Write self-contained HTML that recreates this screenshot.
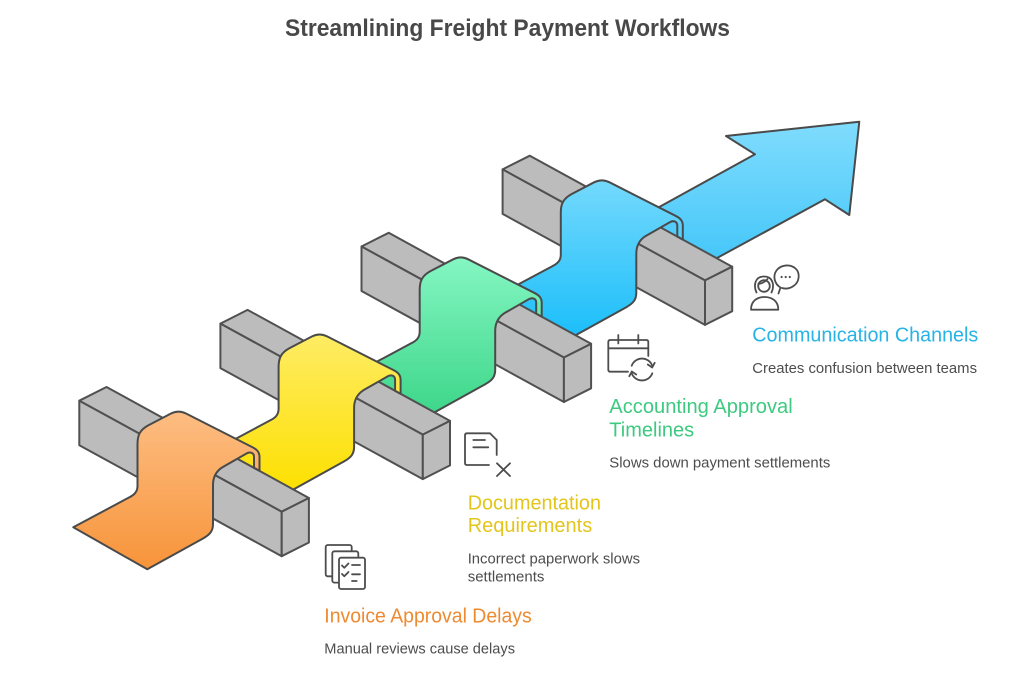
<!DOCTYPE html>
<html>
<head>
<meta charset="utf-8">
<style>
html,body{margin:0;padding:0;background:#fff;}
svg{display:block;}
text{font-family:"Liberation Sans",Arial,sans-serif;}
</style>
</head>
<body>
<svg width="1024" height="686" viewBox="0 0 1024 686" xmlns="http://www.w3.org/2000/svg">
<defs>
<linearGradient id="gO" x1="0" y1="0" x2="0" y2="1"><stop offset="0" stop-color="#FDBD82"/><stop offset="1" stop-color="#F7943A"/></linearGradient>
<linearGradient id="gY" x1="0" y1="0" x2="0" y2="1"><stop offset="0" stop-color="#FEEC64"/><stop offset="1" stop-color="#FDE000"/></linearGradient>
<linearGradient id="gG" x1="0" y1="0" x2="0" y2="1"><stop offset="0" stop-color="#84F6C2"/><stop offset="1" stop-color="#3DD689"/></linearGradient>
<linearGradient id="gB" x1="0" y1="0" x2="0" y2="1"><stop offset="0" stop-color="#74D9FC"/><stop offset="1" stop-color="#1BBEFA"/></linearGradient>
<linearGradient id="gA" x1="0" y1="0" x2="0" y2="1"><stop offset="0" stop-color="#80DCFD"/><stop offset="1" stop-color="#45C7F9"/></linearGradient>
</defs>

<!-- Title -->
<text x="507.5" y="36" text-anchor="middle" font-size="24" font-weight="bold" fill="#484848" textLength="445" lengthAdjust="spacingAndGlyphs">Streamlining Freight Payment Workflows</text>

<!-- Arrow -->
<path d="M637.7,218.9 L755,154.3 L726,136 L859.3,121.7 L849.3,215 L825,199.3 L711.7,260.9 Z" fill="url(#gA)" stroke="#4a4a4a" stroke-width="2" stroke-linejoin="round"/>

<!-- Units: back to front -->
<g transform="translate(423.3,-231.3)">
  <g fill="#bcbcbc" stroke="#505050" stroke-width="2" stroke-linejoin="round">
    <polygon points="79.3,400.7 106.5,387 308.9,498 281.7,511.7"/>
    <polygon points="79.3,400.7 281.7,511.7 281.7,556.2 79.3,445.2"/>
    <polygon points="281.7,511.7 308.9,498 308.9,542.5 281.7,556.2"/>
  </g>
  <path d="M73.3,527.3 L147.3,569.3 L203,538.5 C210,534.5 213,531 213,524 L213,485 C213,477 216,471.5 222,467.5 L246.5,453.5 C250,451.5 254,452.5 254,457 L254,467.8 L259.5,470.8 L259.5,457 C259.5,452 257,449.5 252,447 L186,413.5 C181,411 176,411 171,413.5 L148,425.5 C140,430 137.5,435 137.5,444 L137.5,486 C137.5,492 134,495 129,497.5 Z" fill="url(#gB)" stroke="#4a4a4a" stroke-width="2" stroke-linejoin="round"/>
</g>

<g transform="translate(282.2,-154.2)">
  <g fill="#bcbcbc" stroke="#505050" stroke-width="2" stroke-linejoin="round">
    <polygon points="79.3,400.7 106.5,387 308.9,498 281.7,511.7"/>
    <polygon points="79.3,400.7 281.7,511.7 281.7,556.2 79.3,445.2"/>
    <polygon points="281.7,511.7 308.9,498 308.9,542.5 281.7,556.2"/>
  </g>
  <path d="M73.3,527.3 L147.3,569.3 L203,538.5 C210,534.5 213,531 213,524 L213,485 C213,477 216,471.5 222,467.5 L246.5,453.5 C250,451.5 254,452.5 254,457 L254,467.8 L259.5,470.8 L259.5,457 C259.5,452 257,449.5 252,447 L186,413.5 C181,411 176,411 171,413.5 L148,425.5 C140,430 137.5,435 137.5,444 L137.5,486 C137.5,492 134,495 129,497.5 Z" fill="url(#gG)" stroke="#4a4a4a" stroke-width="2" stroke-linejoin="round"/>
</g>

<g transform="translate(141.1,-77.1)">
  <g fill="#bcbcbc" stroke="#505050" stroke-width="2" stroke-linejoin="round">
    <polygon points="79.3,400.7 106.5,387 308.9,498 281.7,511.7"/>
    <polygon points="79.3,400.7 281.7,511.7 281.7,556.2 79.3,445.2"/>
    <polygon points="281.7,511.7 308.9,498 308.9,542.5 281.7,556.2"/>
  </g>
  <path d="M73.3,527.3 L147.3,569.3 L203,538.5 C210,534.5 213,531 213,524 L213,485 C213,477 216,471.5 222,467.5 L246.5,453.5 C250,451.5 254,452.5 254,457 L254,467.8 L259.5,470.8 L259.5,457 C259.5,452 257,449.5 252,447 L186,413.5 C181,411 176,411 171,413.5 L148,425.5 C140,430 137.5,435 137.5,444 L137.5,486 C137.5,492 134,495 129,497.5 Z" fill="url(#gY)" stroke="#4a4a4a" stroke-width="2" stroke-linejoin="round"/>
</g>

<g>
  <g fill="#bcbcbc" stroke="#505050" stroke-width="2" stroke-linejoin="round">
    <polygon points="79.3,400.7 106.5,387 308.9,498 281.7,511.7"/>
    <polygon points="79.3,400.7 281.7,511.7 281.7,556.2 79.3,445.2"/>
    <polygon points="281.7,511.7 308.9,498 308.9,542.5 281.7,556.2"/>
  </g>
  <path d="M73.3,527.3 L147.3,569.3 L203,538.5 C210,534.5 213,531 213,524 L213,485 C213,477 216,471.5 222,467.5 L246.5,453.5 C250,451.5 254,452.5 254,457 L254,467.8 L259.5,470.8 L259.5,457 C259.5,452 257,449.5 252,447 L186,413.5 C181,411 176,411 171,413.5 L148,425.5 C140,430 137.5,435 137.5,444 L137.5,486 C137.5,492 134,495 129,497.5 Z" fill="url(#gO)" stroke="#4a4a4a" stroke-width="2" stroke-linejoin="round"/>
</g>

<!-- Icons -->
<g fill="none" stroke="#4d4d4d" stroke-width="1.8" stroke-linecap="round" stroke-linejoin="round">
  <!-- person + bubble -->
  <path d="M756.5,292.5 C753.5,286 754.5,276.5 764,276.5 C773.5,276.5 774.5,286 771.5,292.5"/>
  <circle cx="764" cy="286" r="5.8"/>
  <path d="M758.3,284 C762,283.5 765.5,281.5 767.5,279"/>
  <path d="M751,309.7 C751,301 757,297 764.5,297 C772,297 778.3,301 778.3,309.7 Z"/>
  <path d="M778.5,293.5 L780.5,287.5 C774.5,284 772.5,276 776.5,270.5 C780.5,265 790,263.5 795.5,268.5 C800.5,273 799.5,282 793.5,286 C790,288.5 785.5,289 782,288"/>
  <!-- calendar -->
  <path d="M628,371.7 L610.3,371.7 Q608.3,371.7 608.3,369.7 L608.3,342 Q608.3,340 610.3,340 L646.3,340 Q648.3,340 648.3,342 L648.3,356"/>
  <path d="M608.3,348.3 L648.3,348.3 M618.3,335 V343.5 M638.3,335 V343.5"/>
  <path d="M631.7,365.7 A11,11 0 0 1 652.3,365.7"/>
  <polyline points="647.8,364.5 652.2,367.5 654.7,362.8"/>
  <path d="M652.3,373.3 A11,11 0 0 1 631.7,373.3"/>
  <polyline points="636.2,374.5 631.8,371.5 629.3,376.2"/>
  <!-- doc x -->
  <path d="M496.7,455 L496.7,440 L490,433.3 L467,433.3 Q465,433.3 465,435.3 L465,463 Q465,465 467,465 L489,465"/>
  <path d="M473.3,440 L485,440 M473.3,447.3 L488.3,447.3"/>
  <path d="M497,463.3 L510,476 M510,463.3 L497,476"/>
  <!-- stacked docs -->
  <rect x="325.7" y="545" width="26" height="31.3" rx="2" fill="#fff"/>
  <rect x="332.3" y="551.3" width="26" height="31.3" rx="2" fill="#fff"/>
  <rect x="339" y="557.7" width="26" height="31.3" rx="2" fill="#fff"/>
  <path d="M342,565.5 L344.3,567.8 L348.5,563.5 M342,574 L344.3,576.3 L348.5,572"/>
  <path d="M352,565 L360,565 M352,574.3 L360,574.3 M352,581 L356.7,581"/>
</g>
<g fill="#4d4d4d">
  <circle cx="781.6" cy="277" r="1.1"/>
  <circle cx="785.7" cy="277" r="1.1"/>
  <circle cx="789.8" cy="277" r="1.1"/>
</g>

<!-- Labels -->
<text x="752.3" y="341.3" font-size="20" fill="#27B3E6" textLength="226" lengthAdjust="spacingAndGlyphs">Communication Channels</text>
<text x="752.3" y="373" font-size="15" fill="#4d4d4d" textLength="224.7" lengthAdjust="spacingAndGlyphs">Creates confusion between teams</text>

<text x="609.3" y="413" font-size="20" fill="#3DCA80" textLength="183.4" lengthAdjust="spacingAndGlyphs">Accounting Approval</text>
<text x="609.3" y="436.5" font-size="20" fill="#3DCA80">Timelines</text>
<text x="609.3" y="467.5" font-size="15" fill="#4d4d4d" textLength="221" lengthAdjust="spacingAndGlyphs">Slows down payment settlements</text>

<text x="467.7" y="509.3" font-size="20" fill="#E4C51C" textLength="133.3" lengthAdjust="spacingAndGlyphs">Documentation</text>
<text x="467.7" y="531.8" font-size="20" fill="#E4C51C">Requirements</text>
<text x="467.7" y="563.3" font-size="15" fill="#4d4d4d" textLength="172.3" lengthAdjust="spacingAndGlyphs">Incorrect paperwork slows</text>
<text x="467.7" y="581.3" font-size="15" fill="#4d4d4d">settlements</text>

<text x="324.3" y="622.3" font-size="20" fill="#EE8A30" textLength="207.4" lengthAdjust="spacingAndGlyphs">Invoice Approval Delays</text>
<text x="324.3" y="653.3" font-size="15" fill="#4d4d4d" textLength="190.7" lengthAdjust="spacingAndGlyphs">Manual reviews cause delays</text>
</svg>
</body>
</html>
